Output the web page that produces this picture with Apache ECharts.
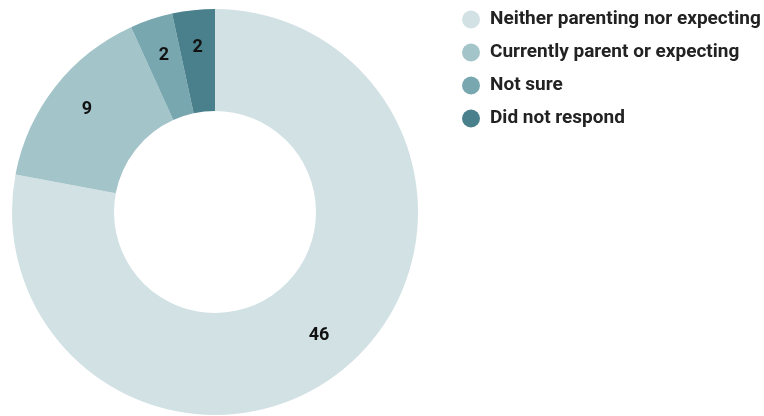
<!DOCTYPE html>
<html>
<head>
<meta charset="utf-8">
<script src="https://cdn.jsdelivr.net/npm/echarts@6/dist/echarts.min.js"></script>
<style>
  html, body { margin: 0; padding: 0; background: #fff; }
  #chart { width: 764px; height: 416px; }
</style>
</head>
<body>
<div id="chart"></div>
<script>
// Parenting status of respondents
const categories = [
  'Neither parenting nor expecting',
  'Currently parent or expecting',
  'Not sure',
  'Did not respond'
];
const counts = [46, 9, 2, 2];
const colors = ['#d1e1e4', '#a3c4c9', '#78a7b0', '#4a7f8c'];

const CX = 215, CY = 212;

const chart = echarts.init(document.getElementById('chart'));
chart.setOption({
  animation: false,
  color: colors,
  legend: {
    orient: 'vertical',
    left: 457,
    top: 5,
    icon: 'circle',
    itemWidth: 18,
    itemHeight: 18,
    itemGap: 14,
    textStyle: {
      fontFamily: 'Roboto',
      fontWeight: 'bold',
      fontSize: 19,
      color: '#222',
      padding: [0, 0, 0, 5]
    },
    data: categories
  },
  series: [{
    type: 'pie',
    center: [CX, CY],
    radius: [101, 203],
    startAngle: 90,
    clockwise: true,
    label: {
      show: true,
      position: 'inside',
      formatter: '{c}',
      fontFamily: 'Roboto',
      fontWeight: 'bold',
      fontSize: 18,
      color: '#111'
    },
    // push the value labels a little further out along the ring
    labelLayout: function (p) {
      const r = p.labelRect;
      const mx = r.x + r.width / 2, my = r.y + r.height / 2;
      const dx = mx - CX, dy = my - CY;
      const d = Math.sqrt(dx * dx + dy * dy);
      const k = (d + 8) / d;
      return { x: CX + dx * k, y: CY + dy * k - 2, align: 'center', verticalAlign: 'middle' };
    },
    labelLine: { show: false },
    emphasis: { disabled: true },
    itemStyle: { borderWidth: 0 },
    data: categories.map((name, i) => ({ name, value: counts[i] }))
  }]
});
</script>
</body>
</html>
